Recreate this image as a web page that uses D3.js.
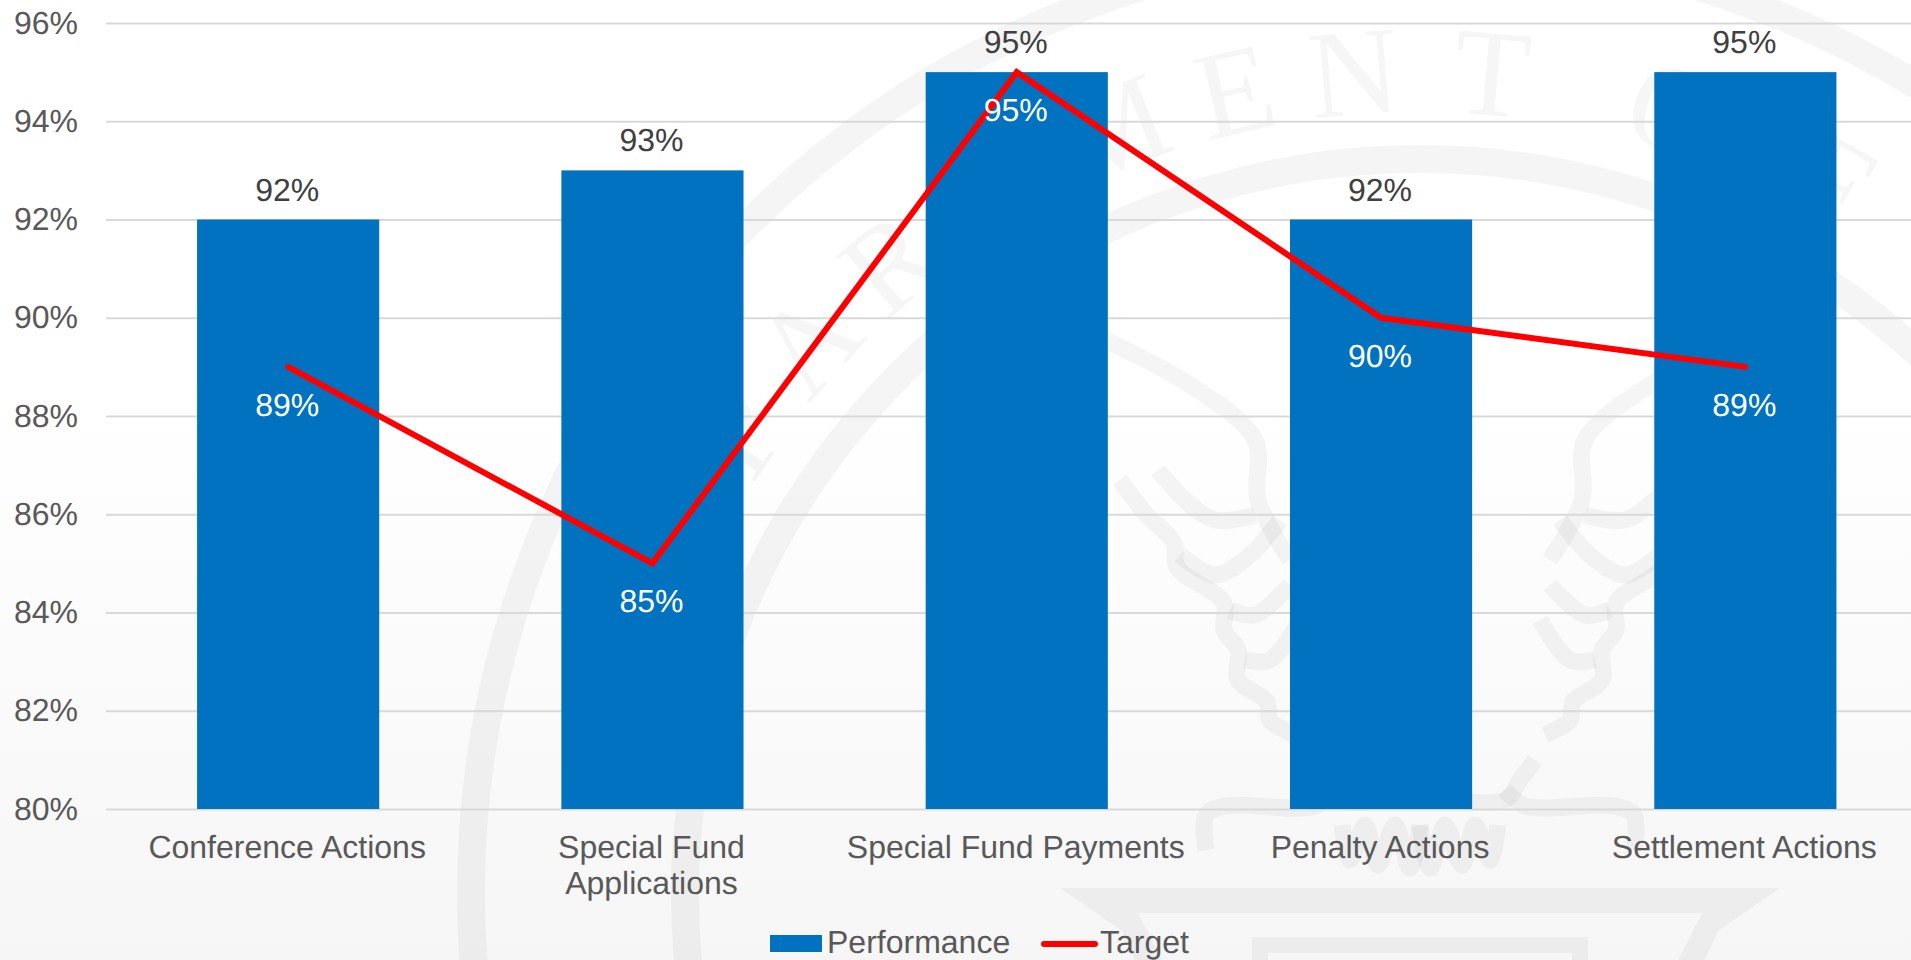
<!DOCTYPE html>
<html>
<head>
<meta charset="utf-8">
<script src="https://cdn.jsdelivr.net/npm/d3@7"></script>
<style>
    html, body { margin: 0; padding: 0; background: #fff; overflow: hidden; }
    text { font-family: "Liberation Sans", Arial, sans-serif; font-size: 32px; text-rendering: geometricPrecision; }
    .axis .domain { display: none; }
    .axis text { fill: #595959; }
    .y.axis line { stroke: #d9d9d9; stroke-width: 2px; }
    .x.axis line { display: none; }
</style>
</head>
<body>
<div id="chart"></div>
<script>
const categories = ["Conference Actions", "Special Fund|Applications", "Special Fund Payments", "Penalty Actions", "Settlement Actions"];
const performance = [92, 93, 95, 92, 95];
const target = [89, 85, 95, 90, 89];
const yTicks = [80, 82, 84, 86, 88, 90, 92, 94, 96];
const sealLetters = ["D", "E", "P", "A", "R", "T", "M", "E", "N", "T", "O", "F"];
const sealAngles = [-72, -64, -56, -48, -40, -31, -22, -13, -4.6, 5, 18, 30];

const W = 1911, H = 960;
const svg = d3.select("#chart").append("svg").attr("width", W).attr("height", H).style("display", "block");

// page background, white fading to light grey at the bottom
const grad = svg.append("defs").append("linearGradient").attr("id", "bg")
    .attr("x1", 0).attr("y1", 0).attr("x2", 0).attr("y2", 1);
grad.append("stop").attr("offset", "40%").attr("stop-color", "#ffffff");
grad.append("stop").attr("offset", "100%").attr("stop-color", "#f6f6f6");
svg.append("rect").attr("width", W).attr("height", H).attr("fill", "url(#bg)");

// watermark seal behind the chart
const seal = svg.append("g").attr("fill", "none").attr("stroke", "#000").attr("stroke-opacity", 0.04);
const cx = 1420, cy = 894;
seal.append("circle").attr("cx", cx).attr("cy", cy).attr("r", 949).attr("stroke-width", 28);
seal.append("circle").attr("cx", cx).attr("cy", cy).attr("r", 735).attr("stroke-width", 28);

seal.selectAll(".letter").data(sealLetters).enter().append("text")
    .attr("class", "letter")
    .attr("transform", function(d, i) { return "translate(" + cx + "," + cy + ") rotate(" + sealAngles[i] + ") translate(0,-782)"; })
    .attr("text-anchor", "middle")
    .style("font-family", "'Liberation Serif', serif")
    .style("font-size", "125px")
    .attr("fill", "#000").attr("fill-opacity", 0.035).attr("stroke", "none")
    .text(function(d) { return d; });

// eagle, drawn for the left side and mirrored
const wing = d3.line().curve(d3.curveCatmullRom);
const eagleParts = [
    [[-315, 340], [-230, 385], [-165, 440], [-162, 500], [-130, 560]],
    [[-300, 480], [-275, 513], [-246, 543], [-243, 567], [-196, 603], [-196, 630], [-182, 650], [-182, 680], [-153, 702], [-150, 720], [-125, 735]],
    [[-262, 470], [-235, 500], [-205, 520], [-165, 515]],
    [[-240, 555], [-205, 575], [-170, 555], [-140, 520]],
    [[-190, 610], [-165, 615], [-130, 585]],
    [[-175, 660], [-150, 660], [-120, 620]],
    [[-115, 760], [-100, 780], [-85, 800], [-30, 800]],
    [[-214, 850], [-214, 815], [-195, 806], [-105, 806], [-85, 790]],
    [[-78, 825], [-70, 860], [-55, 825], [-42, 865], [-25, 825], [-10, 868], [0, 825]]
];
[1, -1].forEach(function(side) {
    const g = seal.append("g").attr("transform", "translate(" + cx + ",0) scale(" + side + ",1)")
        .attr("stroke-width", 17).attr("stroke-linejoin", "round");
    g.selectAll("path").data(eagleParts).enter().append("path").attr("d", function(d) { return wing(d); });
    // shield frame
    g.append("path").attr("d", "M0,888H-360L-298,931L-285,960H-258L-282,913H0Z")
        .attr("stroke", "none").attr("fill", "#000").attr("fill-opacity", 0.04);
    g.append("path").attr("d", "M0,945H-160V960").attr("stroke-width", 16).attr("stroke-linejoin", "miter");
});

// scales
const x = d3.scaleBand().domain(categories).range([106, 1927.5]).paddingInner(0.5).paddingOuter(0.25);
const y = d3.scaleLinear().domain([80, 96]).range([809, 23]);

// y axis, tick lines used as gridlines
const yAxis = svg.append("g").attr("class", "y axis")
    .attr("transform", "translate(106,0)")
    .call(d3.axisLeft(y).tickValues(yTicks).tickSize(-1821.5).tickFormat(function(d) { return d + "%"; }));
yAxis.selectAll("text").attr("x", -28).attr("dy", 0).attr("y", 10);

// bars
svg.selectAll(".bar").data(performance).enter().append("rect")
    .attr("class", "bar")
    .attr("x", function(d, i) { return x(categories[i]); })
    .attr("y", function(d) { return y(d); })
    .attr("width", x.bandwidth())
    .attr("height", function(d) { return y(80) - y(d); })
    .attr("fill", "#0072c0");

// target line
const line = d3.line()
    .x(function(d, i) { return x(categories[i]) + x.bandwidth() / 2; })
    .y(function(d) { return y(d); });
svg.append("path").datum(target).attr("d", line)
    .attr("fill", "none").attr("stroke", "#ff0000").attr("stroke-width", 6)
    .attr("stroke-linecap", "round").attr("stroke-linejoin", "miter");

// data labels
svg.selectAll(".perfLabel").data(performance).enter().append("text")
    .attr("class", "perfLabel")
    .attr("x", function(d, i) { return x(categories[i]) + x.bandwidth() / 2 - 1; })
    .attr("y", function(d) { return y(d) - 19; })
    .attr("text-anchor", "middle").attr("fill", "#404040")
    .text(function(d) { return d + "%"; });
svg.selectAll(".targetLabel").data(target).enter().append("text")
    .attr("class", "targetLabel")
    .attr("x", function(d, i) { return x(categories[i]) + x.bandwidth() / 2 - 1; })
    .attr("y", function(d) { return y(d) + 49; })
    .attr("text-anchor", "middle").attr("fill", "#ffffff")
    .text(function(d) { return d + "%"; });

// x axis, labels with a | break onto two lines
const xAxis = svg.append("g").attr("class", "x axis")
    .attr("transform", "translate(-1,809)")
    .call(d3.axisBottom(x).tickSize(0));
xAxis.selectAll("text").each(function(d) {
    const t = d3.select(this).text(null).attr("y", 0).attr("dy", 0);
    d.split("|").forEach(function(part, i) {
        t.append("tspan").attr("x", 0).attr("y", 49 + i * 36).text(part);
    });
});

// legend
svg.append("rect").attr("x", 770).attr("y", 935).attr("width", 52).attr("height", 17).attr("fill", "#0072c0");
svg.append("text").attr("x", 827).attr("y", 953).attr("fill", "#595959").text("Performance");
svg.append("line").attr("x1", 1044).attr("x2", 1095).attr("y1", 944).attr("y2", 944)
    .attr("stroke", "#ff0000").attr("stroke-width", 6).attr("stroke-linecap", "round");
svg.append("text").attr("x", 1100).attr("y", 953).attr("fill", "#595959").text("Target");
</script>
</body>
</html>
